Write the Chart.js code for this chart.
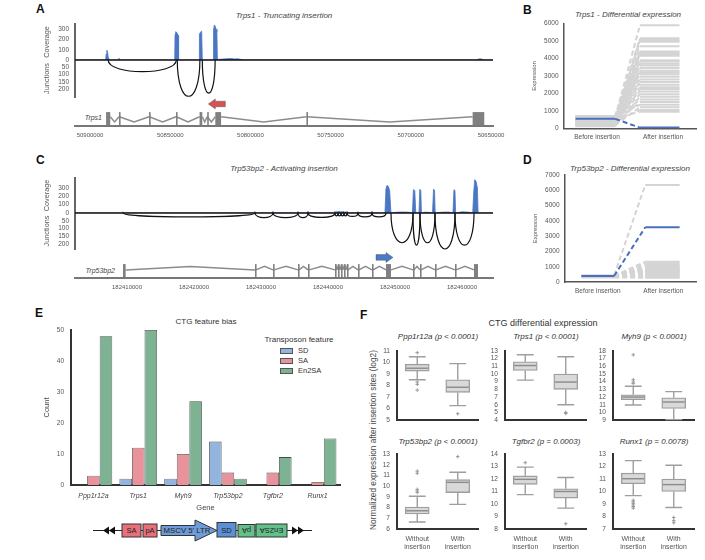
<!DOCTYPE html>
<html>
<head>
<meta charset="utf-8">
<title>CTG insertions</title>
<script src="https://cdn.jsdelivr.net/npm/chart.js@4.4.1/dist/chart.umd.min.js"></script>
<style>
  html, body { margin: 0; padding: 0; background: #fff; }
  body { position: relative; width: 705px; height: 560px; overflow: hidden;
         font-family: "Liberation Sans", Arial, Helvetica, sans-serif; color: #444; }
  .panel { position: absolute; }
  .letter { position: absolute; font-size: 12px; font-weight: bold; color: #111; line-height: 1; }
  .txt { position: absolute; transform: translate(-50%, -50%); white-space: nowrap; line-height: 1; }
  .it { font-style: italic; }
  .rt { position: absolute; transform: translate(-100%, -50%); white-space: nowrap; line-height: 1;
        font-style: italic; font-size: 7px; color: #444; }
  .sw { position: absolute; width: 11px; height: 4px; border: 1px solid #555; }
  .lt { position: absolute; transform: translateY(-50%); font-size: 7.5px; color: #333; line-height: 1; }
  #ylabF { position: absolute; left: 373px; top: 440px; transform: translate(-50%, -50%) rotate(-90deg);
           font-size: 8.3px; color: #444; white-space: nowrap; line-height: 1; }
</style>
</head>
<body>
<div class="letter" style="left:36px;top:2.5px">A</div>
<div class="letter" style="left:523px;top:3.5px">B</div>
<div class="letter" style="left:36px;top:153.5px">C</div>
<div class="letter" style="left:523px;top:153.5px">D</div>
<div class="letter" style="left:35px;top:306.5px">E</div>
<div class="letter" style="left:360px;top:308.5px">F</div>

<div class="txt it" style="left:284px;top:16px;font-size:8px">Trps1 - Truncating insertion</div>
<div class="txt it" style="left:628px;top:15px;font-size:8px">Trps1 - Differential expression</div>
<div class="txt it" style="left:284px;top:169px;font-size:8px">Trp53bp2 - Activating insertion</div>
<div class="txt it" style="left:630px;top:169px;font-size:8px">Trp53bp2 - Differential expression</div>
<div class="rt" style="left:102px;top:117px">Trps1</div>
<div class="rt" style="left:115px;top:270px">Trp53bp2</div>
<div class="txt" style="left:206px;top:322px;font-size:8px;color:#333">CTG feature bias</div>
<div class="txt" style="left:543px;top:323px;font-size:9px;color:#333">CTG differential expression</div>
<div id="ylabF">Normalized expression after insertion sites (log2)</div>
<div id="legendE"></div>
<div id="titlesF"></div>

<svg style="position:absolute;left:88px;top:515px" width="230" height="32" viewBox="88 515 230 32">
  <line x1="93" y1="530.5" x2="312" y2="530.5" stroke="#222" stroke-width="1.2"/>
  <polygon points="103,530.5 109,526.5 109,534.5" fill="#111"/>
  <polygon points="109,530.5 115,526.5 115,534.5" fill="#111"/>
  <polygon points="304,530.5 298,526.5 298,534.5" fill="#111"/>
  <polygon points="298,530.5 292,526.5 292,534.5" fill="#111"/>
  <g stroke="#333" stroke-width="1">
    <rect x="122" y="524" width="19" height="13" fill="#e8707a"/>
    <rect x="143" y="524" width="14" height="13" fill="#e8707a"/>
    <polygon points="161,525.5 195,525.5 195,520 217,530.5 195,541 195,535.5 161,535.5" fill="#6e9cd8"/>
    <rect x="217" y="522.5" width="19" height="14.5" fill="#5b8fd6"/>
    <rect x="238" y="524.5" width="17" height="12.5" fill="#62c08a"/>
    <rect x="256" y="524" width="31" height="13" fill="#62c08a"/>
  </g>
  <g fill="#222" font-family="Liberation Sans, Arial, sans-serif" font-size="7.5" text-anchor="middle" dominant-baseline="central">
    <text x="131.5" y="530.5">SA</text>
    <text x="150" y="530.5">pA</text>
    <text x="187" y="530.5" font-size="7.8">MSCV 5' LTR</text>
    <text x="226.5" y="530">SD</text>
    <text x="246.5" y="530.5" transform="rotate(180 246.5 530.5)">pA</text>
    <text x="271.5" y="530.5" transform="rotate(180 271.5 530.5)">En2SA</text>
  </g>
</svg>

<script>
// ---------- A: Trps1 coverage / junctions / gene model ----------
const trps1Ticks = [50900000, 50850000, 50800000, 50750000, 50700000, 50650000];
const trps1CovPos = [50909375, 50890300, 50889900, 50889500, 50889100, 50888600, 50888000, 50887400,
  50882400, 50882000, 50881600, 50881200,
  50847200, 50847000, 50846600, 50846100, 50845600, 50845100, 50844800,
  50832000, 50831800, 50831400, 50830900, 50830400, 50830000,
  50823300, 50823000, 50822500, 50822000, 50821400, 50820900, 50820600,
  50820000, 50818000, 50815000, 50812000, 50810000, 50808000, 50806000, 50804000,
  50659000, 50658000, 50657000, 50656000, 50655000, 50654000, 50648750];
const trps1CovVal = [0, 0, 60, 95, 75, 25, 5, 0,
  0, 18, 12, 0,
  0, 250, 275, 270, 260, 240, 0,
  0, 250, 265, 275, 280, 0,
  0, 290, 340, 330, 300, 270, 0,
  6, 8, 12, 14, 10, 12, 6, 0,
  0, 8, 12, 10, 4, 0, 0];
const trps1ArcStart = [50888700, 50845600, 50830000];
const trps1ArcEnd = [50846200, 50831500, 50822000];
const trps1ArcDepth = [80, 250, 228];
const trps1ExonStart = [50890000, 50881950, 50863200, 50846400, 50831700, 50826950, 50821900, 50765100, 50661450];
const trps1ExonEnd = [50887400, 50881800, 50863050, 50846150, 50830000, 50826800, 50818300, 50764950, 50654200];
const trps1Insertion = [50815625, 50826250];

// ---------- C: Trp53bp2 coverage / junctions / gene model ----------
const trp53Ticks = [182410000, 182420000, 182430000, 182440000, 182450000, 182460000];
const trp53CovPos = [182402239,
  182409250, 182409400, 182409550,
  182428950, 182429100, 182429250,
  182431640, 182431790, 182431940,
  182435370, 182435520, 182435670,
  182436860, 182437010, 182437160,
  182440900, 182441050, 182441200, 182441350, 182441500, 182441650, 182441800, 182441950,
  182442100, 182442250, 182442400, 182442550, 182442700, 182442850, 182443000,
  182444330, 182444480, 182444630,
  182446420, 182446570, 182446720,
  182448500, 182448650, 182448800, 182449000, 182449200, 182449400,
  182450000, 182451000, 182452000,
  182452600, 182452750, 182452950, 182453100,
  182453580, 182453700, 182453850, 182453950,
  182454500, 182455000,
  182455600, 182455750, 182455900, 182456000,
  182457000, 182458000,
  182458650, 182458800, 182458950, 182459050,
  182460000, 182461000,
  182461600, 182461750, 182461900, 182462100, 182462300, 182462400,
  182464627];
const trp53CovVal = [0,
  0, 15, 0,
  0, 18, 0,
  0, 20, 0,
  0, 18, 0,
  0, 22, 0,
  0, 20, 6, 22, 6, 25, 6, 20,
  6, 24, 6, 18, 6, 20, 0,
  0, 16, 0,
  0, 22, 0,
  0, 290, 330, 320, 270, 0,
  8, 12, 10,
  0, 280, 270, 0,
  0, 285, 270, 0,
  10, 8,
  0, 285, 275, 0,
  10, 12,
  0, 280, 270, 0,
  14, 10,
  0, 250, 400, 380, 300, 0,
  0];
const trp53ArcStart = [182409403, 182429104, 182431791, 182435522, 182437015, 182441045, 182441493, 182441940,
  182442388, 182442836, 182444478, 182446567, 182449403, 182452687, 182453731, 182455970, 182458955];
const trp53ArcEnd = [182429104, 182431791, 182435522, 182437015, 182441045, 182441493, 182441940, 182442388,
  182442836, 182444478, 182446567, 182448657, 182452687, 182453731, 182455970, 182458955, 182461791];
const trp53ArcDepth = [25, 30, 30, 30, 28, 18, 18, 18, 18, 22, 25, 25, 190, 205, 190, 230, 205];
const trp53ExonStart = [182409403, 182429104, 182431791, 182435522, 182437015, 182441045, 182441493, 182441940,
  182442388, 182442836, 182444478, 182446567, 182448657, 182452687, 182453731, 182455970, 182458955, 182461791];
const trp53ExonEnd = [182409800, 182429250, 182431940, 182435670, 182437160, 182441190, 182441640, 182442090,
  182442530, 182442980, 182444620, 182446710, 182449403, 182452830, 182453880, 182456110, 182459100, 182462388];
const trp53Insertion = [182447164, 182449701];

// ---------- B / D: before vs after insertion ----------
const phaseLabels = ['Before insertion', 'After insertion'];
const trps1GreyBefore = [620, 700, 450, 560, 300, 680, 420, 520, 250, 610, 380, 700, 180, 490, 330, 640,
  270, 560, 150, 430, 600, 350, 220, 680, 470, 120, 540, 310, 650, 200, 400, 580];
const trps1GreyAfter = [5900, 5150, 5050, 4950, 4700, 4400, 4320, 4250, 4150, 3900, 3820, 3700, 3600, 3450, 3300, 3200,
  3100, 2950, 2800, 2650, 2500, 2350, 2250, 2100, 1950, 1800, 1650, 1500, 1350, 1200, 1050, 950];
const trps1BlueBefore = 540;
const trps1BlueAfter = 40;
const trp53GreyBefore = [430, 400, 380, 410, 370, 390, 360, 400, 350, 380, 340, 370, 330, 360, 320, 350, 300];
const trp53GreyAfter = [6350, 1330, 1220, 1110, 1000, 940, 880, 820, 760, 700, 640, 580, 520, 460, 400, 340, 280];
const trp53BlueBefore = 390;
const trp53BlueAfter = 3580;

// ---------- E: feature bias ----------
const featureGenes = ['Ppp1r12a', 'Trps1', 'Myh9', 'Trp53bp2', 'Tgfbr2', 'Runx1'];
const featureNames = ['SD', 'SA', 'En2SA'];
const sdCounts = [0, 2, 2, 14, 0, 0];
const saCounts = [3, 12, 10, 4, 4, 1];
const en2saCounts = [48, 50, 27, 2, 9, 15];

// ---------- F: differential expression boxes ----------
const boxGenes = ['Ppp1r12a', 'Trps1', 'Myh9', 'Trp53bp2', 'Tgfbr2', 'Runx1'];
const boxPValues = ['p < 0.0001', 'p < 0.0001', 'p < 0.0001', 'p < 0.0001', 'p = 0.0003', 'p = 0.0078'];
const boxLabels = ['Without insertion', 'With insertion'];
const boxYMin = [5, 4, 9, 6, 8, 7];
const boxYMax = [11, 13, 18, 13, 14, 13];
// [low whisker, Q1, median, Q3, high whisker]
const withoutStats = [
  [8.5, 9.25, 9.5, 9.85, 10.5],
  [9.2, 10.45, 11.1, 11.6, 12.5],
  [10.95, 11.65, 12.0, 12.3, 13.4],
  [6.65, 7.4, 7.7, 8.05, 9.05],
  [10.75, 11.57, 11.97, 12.25, 12.95],
  [9.67, 10.62, 11.02, 11.47, 12.47]
];
const withStats = [
  [6.25, 7.4, 7.85, 8.5, 9.9],
  [6.0, 8.0, 8.95, 10.0, 12.25],
  [9.05, 10.5, 11.35, 11.9, 12.7],
  [8.3, 9.4, 10.35, 10.6, 11.3],
  [9.67, 10.47, 11.0, 11.22, 12.12],
  [8.72, 10.0, 10.55, 11.0, 12.1]
];
const withoutOutliers = [
  [10.85, 8.3, 8.1, 7.6],
  [],
  [17.5, 14.25, 13.95, 13.75],
  [11.4, 11.2, 9.7, 9.55, 9.4],
  [13.3],
  [9.3, 9.17, 9.05, 8.92, 8.8, 8.67]
];
const withOutliers = [
  [5.55],
  [5.0, 4.85],
  [],
  [12.75],
  [8.42],
  [7.92, 7.67, 7.5]
];

const featureColors = ['#92b4de', '#e8939c', '#7db393'];

Chart.defaults.font.family = '"Liberation Sans", Arial, sans-serif';
Chart.defaults.font.size = 6.5;
Chart.defaults.color = '#555';
Chart.defaults.animation = false;
Chart.defaults.responsive = true;
Chart.defaults.maintainAspectRatio = false;
Chart.defaults.plugins.legend.display = false;
Chart.defaults.plugins.tooltip.enabled = false;

const noGrid = { display: false, drawTicks: false };
const fixWidth = w => scale => { scale.width = w; };
const fixHeight = h => scale => { scale.height = h; };
const plain = v => String(v);

function makeCanvas(left, top, width, height) {
  const div = document.createElement('div');
  div.className = 'panel';
  div.style.cssText = `left:${left}px;top:${top}px;width:${width}px;height:${height}px`;
  const canvas = document.createElement('canvas');
  div.appendChild(canvas);
  document.body.appendChild(div);
  return canvas;
}

function drawArrow(ctx, tail, head, yc, color) {
  const dir = Math.sign(head - tail), neck = head - dir * 7;
  ctx.fillStyle = color;
  ctx.strokeStyle = 'rgba(60,60,60,0.6)';
  ctx.lineWidth = 0.6;
  ctx.beginPath();
  ctx.moveTo(tail, yc - 2.8);
  ctx.lineTo(neck, yc - 2.8);
  ctx.lineTo(neck, yc - 5);
  ctx.lineTo(head, yc);
  ctx.lineTo(neck, yc + 5);
  ctx.lineTo(neck, yc + 2.8);
  ctx.lineTo(tail, yc + 2.8);
  ctx.closePath();
  ctx.fill();
  ctx.stroke();
}

// junction arcs, zero line, exons/introns and the insertion arrow
function trackPlugin(t) {
  return {
    id: 'trackExtras',
    afterDatasetsDraw(chart) {
      const { ctx, chartArea } = chart;
      const { x, cov, junc, gene } = chart.scales;
      const y0 = cov.getPixelForValue(0);
      ctx.save();
      ctx.strokeStyle = '#111';
      ctx.lineWidth = 1.4;
      ctx.beginPath();
      ctx.moveTo(chartArea.left, y0);
      ctx.lineTo(chartArea.right, y0);
      ctx.stroke();

      ctx.lineWidth = 1.2;
      t.arcStart.forEach((s, i) => {
        const xa = x.getPixelForValue(s);
        const xb = x.getPixelForValue(t.arcEnd[i]);
        const yc = y0 + (junc.getPixelForValue(t.arcDepth[i]) - y0) / 0.75;
        ctx.beginPath();
        ctx.moveTo(xa, y0);
        ctx.bezierCurveTo(xa, yc, xb, yc, xb, y0);
        ctx.stroke();
      });

      const edges = t.exonStart.map((s, i) => {
        const a = x.getPixelForValue(s), b = x.getPixelForValue(t.exonEnd[i]);
        return [Math.min(a, b), Math.max(a, b)];
      }).sort((p, q) => p[0] - q[0]);
      const minus = t.strand < 0;
      const yBase = gene.getPixelForValue(minus ? 0.32 : 0.28);
      const yBend = gene.getPixelForValue(minus ? 0.14 : 0.4);
      ctx.strokeStyle = '#8c8c8c';
      ctx.lineWidth = 1.5;
      ctx.beginPath();
      for (let i = 0; i < edges.length - 1; i++) {
        const xa = edges[i][1], xb = edges[i + 1][0];
        ctx.moveTo(xa, yBase);
        ctx.lineTo((xa + xb) / 2, yBend);
        ctx.lineTo(xb, yBase);
      }
      ctx.stroke();
      const top = gene.getPixelForValue(0.48), bottom = gene.getPixelForValue(0.03);
      ctx.fillStyle = '#808080';
      edges.forEach(([a, b]) => ctx.fillRect(a, top, Math.max(b - a, 1.6), bottom - top));

      drawArrow(ctx, x.getPixelForValue(t.insertion[0]), x.getPixelForValue(t.insertion[1]),
        gene.getPixelForValue(minus ? 0.76 : 0.71), t.arrowColor);
      ctx.restore();
    }
  };
}

function trackChart(box, t) {
  const coverage = t.covPos.map((p, i) => ({ x: p, y: t.covVal[i] }));
  const yTitle = text => ({ display: true, text, font: { size: 7.3 }, padding: { top: 8, bottom: 0 } });
  return new Chart(makeCanvas(...box), {
    type: 'line',
    data: {
      datasets: [{
        data: coverage, yAxisID: 'cov', borderColor: '#4a76c4', backgroundColor: '#4a76c4',
        borderWidth: 0.8, pointRadius: 0, fill: 'origin'
      }]
    },
    options: {
      layout: { padding: t.padding },
      scales: {
        x: {
          type: 'linear', position: 'bottom', reverse: t.strand < 0, min: t.xMin, max: t.xMax,
          grid: noGrid, border: { color: '#777', width: 2 },
          afterBuildTicks: s => { s.ticks = t.ticks.map(value => ({ value })); },
          ticks: { autoSkip: false, maxRotation: 0, font: { size: 6 }, padding: t.xPad, callback: plain },
          afterFit: fixHeight(16)
        },
        cov: {
          type: 'linear', position: 'left', stack: 'track', stackWeight: t.weights[0], weight: 3,
          min: 0, max: t.covMax, grid: noGrid, border: { color: '#666', width: 2 },
          ticks: { stepSize: 100, includeBounds: false, autoSkip: false, padding: 6, callback: plain },
          afterBuildTicks: s => { s.ticks = s.ticks.filter(k => k.value <= 300); },
          title: yTitle('Coverage'),
          afterFit: fixWidth(40)
        },
        junc: {
          type: 'linear', position: 'left', stack: 'track', stackWeight: t.weights[1], weight: 2,
          reverse: true, min: 0, max: t.juncMax, grid: noGrid, border: { color: '#666', width: 2 },
          ticks: { stepSize: 50, includeBounds: false, autoSkip: false, padding: 6, callback: plain },
          afterBuildTicks: s => { s.ticks = s.ticks.filter(k => k.value > 0 && k.value <= 200); },
          title: yTitle('Junctions'),
          afterFit: fixWidth(40)
        },
        gene: {
          type: 'linear', position: 'left', stack: 'track', stackWeight: t.weights[2], weight: 1,
          min: 0, max: 1, grid: noGrid, border: { display: false }, ticks: { display: false },
          afterFit: fixWidth(40)
        }
      }
    },
    plugins: [trackPlugin(t)]
  });
}

trackChart([0, 10, 512, 138], {
  covPos: trps1CovPos, covVal: trps1CovVal, ticks: trps1Ticks,
  arcStart: trps1ArcStart, arcEnd: trps1ArcEnd, arcDepth: trps1ArcDepth,
  exonStart: trps1ExonStart, exonEnd: trps1ExonEnd, insertion: trps1Insertion,
  xMin: 50648750, xMax: 50909375, strand: -1,
  covMax: 350, juncMax: 255, weights: [36, 37, 29],
  padding: { left: 35, right: 19, top: 14, bottom: 6 }, xPad: 5.5, arrowColor: '#d25454'
});

trackChart([0, 164, 512, 136], {
  covPos: trp53CovPos, covVal: trp53CovVal, ticks: trp53Ticks,
  arcStart: trp53ArcStart, arcEnd: trp53ArcEnd, arcDepth: trp53ArcDepth,
  exonStart: trp53ExonStart, exonEnd: trp53ExonEnd, insertion: trp53Insertion,
  xMin: 182402239, xMax: 182464627, strand: 1,
  covMax: 420, juncMax: 230, weights: [35, 36, 29],
  padding: { left: 35, right: 19, top: 14, bottom: 6 }, xPad: 6, arrowColor: '#4b7bc4'
});

// before / after slope lines
function slopeChart(box, s) {
  const xs = s.segX;
  const line = (before, after, color, order) => ({
    data: [{ x: xs[0], y: before }, { x: xs[1], y: before }, { x: xs[2], y: after }, { x: xs[3], y: after }],
    borderColor: color, borderWidth: 2, pointRadius: 0, order,
    segment: { borderDash: c => c.p0DataIndex === 1 ? [5, 3] : undefined }
  });
  const datasets = s.greyBefore.map((b, i) => line(b, s.greyAfter[i], '#d4d4d4', 1));
  datasets.push(line(s.blueBefore, s.blueAfter, '#4a70bd', 0));
  return new Chart(makeCanvas(...box), {
    type: 'line',
    data: { datasets },
    options: {
      layout: { padding: s.padding },
      scales: {
        x: {
          type: 'linear', min: 0, max: 4, grid: noGrid, border: { color: '#555', width: 1.5 },
          afterBuildTicks: sc => { sc.ticks = [{ value: 1 }, { value: 3 }]; },
          ticks: { autoSkip: false, maxRotation: 0, padding: 5.5, callback: (v, i) => phaseLabels[i] },
          afterFit: fixHeight(14)
        },
        y: {
          min: 0, max: s.yMax, grid: noGrid, border: { color: '#555', width: 1.5 },
          ticks: { stepSize: 1000, autoSkip: false, padding: 5.5, callback: plain },
          title: { display: true, text: 'Expression', font: { size: 6 }, padding: { top: 2.5, bottom: 0 } },
          afterFit: fixWidth(36)
        }
      }
    }
  });
}

slopeChart([520, 10, 185, 138], {
  greyBefore: trps1GreyBefore, greyAfter: trps1GreyAfter,
  blueBefore: trps1BlueBefore, blueAfter: trps1BlueAfter,
  yMax: 6000, segX: [0.35, 1.55, 2.3, 3.5],
  padding: { left: 8, right: 9, top: 13.5, bottom: 5.7 }
});

slopeChart([520, 162, 185, 140], {
  greyBefore: trp53GreyBefore, greyAfter: trp53GreyAfter,
  blueBefore: trp53BlueBefore, blueAfter: trp53BlueAfter,
  yMax: 7000, segX: [0.5, 1.5, 2.45, 3.5],
  padding: { left: 9, right: 9, top: 13, bottom: 6 }
});

// E: grouped bars
const featureCounts = [sdCounts, saCounts, en2saCounts];
new Chart(makeCanvas(20, 312, 335, 205), {
  type: 'bar',
  data: {
    labels: featureGenes,
    datasets: featureCounts.map((counts, i) => ({
      label: featureNames[i], data: counts, backgroundColor: featureColors[i],
      borderColor: '#4a4a4a', borderWidth: 0.8, categoryPercentage: 0.84, barPercentage: 1
    }))
  },
  options: {
    layout: { padding: { left: 17, right: 15, top: 18, bottom: 4 } },
    scales: {
      x: {
        grid: noGrid, border: { color: '#333', width: 2 },
        ticks: { font: { size: 7, style: 'italic' }, color: '#444', padding: 7, maxRotation: 0, autoSkip: false },
        title: { display: true, text: 'Gene', font: { size: 7.5 }, color: '#444', padding: { top: 0, bottom: 0.5 } },
        afterFit: fixHeight(28)
      },
      y: {
        min: 0, max: 50, grid: noGrid, border: { color: '#333', width: 2 },
        ticks: { stepSize: 10, autoSkip: false, padding: 7 },
        title: { display: true, text: 'Count', font: { size: 7.5 }, color: '#444', padding: { top: 5.5, bottom: 0 } },
        afterFit: fixWidth(34)
      }
    }
  }
});

document.getElementById('legendE').innerHTML =
  '<div class="txt" style="left:299px;top:340px;font-size:8px;color:#333">Transposon feature</div>' +
  featureNames.map((name, i) =>
    `<div class="sw" style="left:280px;top:${348 + i * 10}px;background:${featureColors[i]}"></div>` +
    `<div class="lt" style="left:298px;top:${350.5 + i * 10}px">${name}</div>`).join('');

// F: box plots (boxes as floating bars, whiskers/medians from the y scale)
function whiskerPlugin(stats) {
  return {
    id: 'whiskers',
    afterDatasetsDraw(chart) {
      const { ctx } = chart;
      const y = chart.scales.y;
      ctx.save();
      ctx.lineWidth = 1.4;
      chart.getDatasetMeta(0).data.forEach((bar, k) => {
        const [lo, q1, med, q3, hi] = stats[k].map(v => y.getPixelForValue(v));
        const half = bar.width / 2, cap = bar.width * 0.35;
        ctx.strokeStyle = '#9e9e9e';
        ctx.beginPath();
        ctx.moveTo(bar.x, q3); ctx.lineTo(bar.x, hi);
        ctx.moveTo(bar.x, q1); ctx.lineTo(bar.x, lo);
        ctx.moveTo(bar.x - cap, hi); ctx.lineTo(bar.x + cap, hi);
        ctx.moveTo(bar.x - cap, lo); ctx.lineTo(bar.x + cap, lo);
        ctx.stroke();
        ctx.strokeStyle = '#8a8a8a';
        ctx.beginPath();
        ctx.moveTo(bar.x - half + 1, med); ctx.lineTo(bar.x + half - 1, med);
        ctx.stroke();
      });
      ctx.restore();
    }
  };
}

function boxChart(i) {
  const col = i % 3, row = Math.floor(i / 3);
  const areaLeft = 397 + col * 108;
  const stats = [withoutStats[i], withStats[i]];
  const outliers = withoutOutliers[i].map(v => ({ x: boxLabels[0], y: v }))
    .concat(withOutliers[i].map(v => ({ x: boxLabels[1], y: v })));
  return new Chart(makeCanvas(areaLeft - 26, row ? 443 : 340, 112, row ? 114 : 91), {
    type: 'bar',
    data: {
      labels: boxLabels,
      datasets: [
        { type: 'bar', data: stats.map(s => [s[1], s[3]]), backgroundColor: '#d9d9d9',
          borderColor: '#9e9e9e', borderWidth: 1.4, borderSkipped: false, barThickness: 24, order: 2 },
        { type: 'line', data: outliers, showLine: false, pointStyle: 'cross', pointRadius: 1.8,
          pointBorderColor: '#999', pointBorderWidth: 1, borderColor: '#999', order: 1 }
      ]
    },
    options: {
      layout: { padding: { left: 4, right: 4, top: 6, bottom: row ? 2 : 4 } },
      scales: {
        x: {
          grid: noGrid, border: { color: '#333', width: 2 },
          ticks: { display: row === 1, padding: 6, font: { size: 6.9 }, maxRotation: 0, autoSkip: false,
                   callback: (v, k) => boxLabels[k].split(' ') },
          afterFit: fixHeight(row ? 26 : 2)
        },
        y: {
          min: boxYMin[i], max: boxYMax[i], grid: noGrid, border: { color: '#333', width: 2 },
          ticks: { stepSize: 1, autoSkip: false, padding: 7, font: { size: 6.6 } },
          afterFit: fixWidth(22)
        }
      }
    },
    plugins: [whiskerPlugin(stats)]
  });
}

boxGenes.forEach((g, i) => boxChart(i));

document.getElementById('titlesF').innerHTML = boxGenes.map((g, i) => {
  const cx = 438 + (i % 3) * 108, cy = i < 3 ? 337 : 442;
  return `<div class="txt it" style="left:${cx}px;top:${cy}px;font-size:8px;color:#333">${g} (${boxPValues[i]})</div>`;
}).join('');
</script>
</body>
</html>
